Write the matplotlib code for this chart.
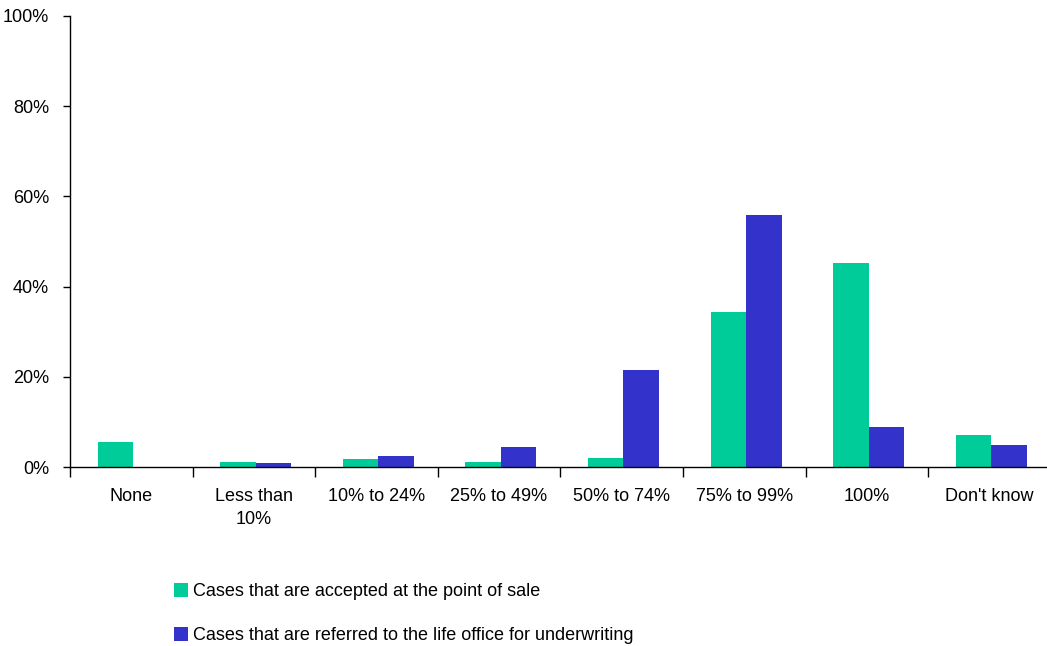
import matplotlib
matplotlib.use("Agg")
import matplotlib.pyplot as plt
import numpy as np
from matplotlib.ticker import FixedLocator, PercentFormatter

plt.rcParams['font.family'] = ['Liberation Sans', 'DejaVu Sans']
plt.rcParams['font.size'] = 13

categories = ["None", "Less than\n10%", "10% to 24%", "25% to 49%",
              "50% to 74%", "75% to 99%", "100%", "Don't know"]
accepted = [5.5, 1.0, 1.7, 1.0, 2.1, 34.4, 45.3, 7.0]
referred = [0.0, 0.8, 2.4, 4.4, 21.6, 55.9, 8.8, 4.8]
series_names = ["Cases that are accepted at the point of sale",
                "Cases that are referred to the life office for underwriting"]
colors = ["#00CC99", "#3333CC"]

W, H = 1047, 646
fig = plt.figure(figsize=(W / 100, H / 100), dpi=100)
ax = fig.add_axes([70 / W, 1 - 467 / H, (1047 - 70) / W, (467 - 16) / H])

x = np.arange(len(categories))
bw = 0.29
b1 = ax.bar(x - bw / 2 + 0.015, accepted, bw, color=colors[0], label=series_names[0])
b2 = ax.bar(x + bw / 2 + 0.015, referred, bw, color=colors[1], label=series_names[1])

ax.set_xlim(-0.5, 7.47)
ax.set_ylim(0, 100)
ax.set_yticks(np.arange(0, 101, 20))
ax.yaxis.set_major_formatter(PercentFormatter(decimals=0))
ax.tick_params(axis='y', direction='out', length=5, width=1, pad=10, colors='black')

ax.set_xticks(x)
ax.set_xticklabels(categories, linespacing=1.5)
ax.xaxis.set_minor_locator(FixedLocator(np.arange(-0.5, 8, 1)))
ax.tick_params(axis='x', which='major', length=0, pad=15)
ax.tick_params(axis='x', which='minor', direction='out', length=7, width=1)

for s in ['top', 'right']:
    ax.spines[s].set_visible(False)
for s in ['left', 'bottom']:
    ax.spines[s].set_linewidth(1)

fig.legend(handles=[b1, b2], loc='upper left', bbox_to_anchor=(167 / W, 1 - 576 / H),
           frameon=False, handlelength=0.75, handleheight=0.75, handletextpad=0.3,
           labelspacing=1.5, borderaxespad=0)

fig.savefig("out.png", dpi=100)
